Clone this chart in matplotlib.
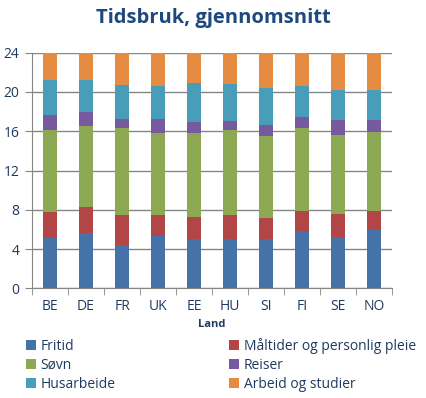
import matplotlib.pyplot as plt
import numpy as np

# data (hours per day, cumulative tops converted to segments)
land = ["BE", "DE", "FR", "UK", "EE", "HU", "SI", "FI", "SE", "NO"]
fritid = [5.15, 5.66, 4.44, 5.36, 5.02, 5.02, 5.02, 5.87, 5.26, 5.94]
maltider = [2.65, 2.64, 3.06, 2.14, 2.28, 2.48, 2.17, 2.00, 2.34, 1.93]
sovn = [8.35, 8.23, 8.82, 8.32, 8.52, 8.62, 8.31, 8.45, 8.01, 8.05]
reiser = [1.50, 1.45, 0.95, 1.45, 1.11, 0.95, 1.13, 1.12, 1.53, 1.22]
husarbeide = [3.55, 3.22, 3.43, 3.36, 4.01, 3.77, 3.77, 3.19, 3.05, 3.05]
arbeid = [2.80, 2.80, 3.30, 3.37, 3.06, 3.16, 3.60, 3.37, 3.81, 3.81]

series = [
    ("Fritid", fritid, "#4672AA"),
    ("Måltider og personlig pleie", maltider, "#B24647"),
    ("Søvn", sovn, "#8CA852"),
    ("Reiser", reiser, "#76599E"),
    ("Husarbeide", husarbeide, "#489EB8"),
    ("Arbeid og studier", arbeid, "#E68B42"),
]

plt.rcParams['font.family'] = ['Open Sans', 'DejaVu Sans']
text_col = '#1F3A5F'

fig = plt.figure(figsize=(4.26, 3.98), dpi=100)
ax = fig.add_axes([32 / 426, 1 - 288.3 / 398, 360 / 426, 235.6 / 398])

x = np.arange(len(land))
bottom = np.zeros(len(land))
handles = {}
for name, vals, col in series:
    b = ax.bar(x, vals, 0.37, bottom=bottom, color=col, label=name, zorder=3)
    handles[name] = b
    bottom += np.array(vals)

ax.set_xlim(-0.5, len(land) - 0.5)
ax.set_ylim(0, 24)
ax.set_yticks(range(0, 25, 4))
ax.yaxis.grid(True, color='#868686', linewidth=1, zorder=0)

ax.set_xticks(x)
ax.set_xticklabels(land)
ax.set_xticks(np.arange(-0.5, len(land)), minor=True)
ax.tick_params(axis='x', which='major', length=0, pad=8, labelsize=10, labelcolor=text_col)
ax.tick_params(axis='x', which='minor', length=5, color='#868686', direction='out')
ax.tick_params(axis='y', length=5, color='#868686', labelsize=10, labelcolor=text_col, pad=4)

for s in ['top', 'right']:
    ax.spines[s].set_visible(False)
for s in ['left', 'bottom']:
    ax.spines[s].set_color('#868686')

ax.set_xlabel('Land', fontsize=8, fontweight='bold', color=text_col, labelpad=3)

fig.text(0.5, 1 - 18 / 398, 'Tidsbruk, gjennomsnitt', ha='center', va='center',
         fontsize=14.5, fontweight='bold', color='#1F497D')

order = ["Fritid", "Søvn", "Husarbeide", "Måltider og personlig pleie", "Reiser", "Arbeid og studier"]
leg = fig.legend([handles[n] for n in order], order, ncol=2, loc='upper left',
                 bbox_to_anchor=(20 / 426, 1 - 332 / 398), frameon=False, fontsize=10,
                 handlelength=0.75, handleheight=0.75, handletextpad=0.3,
                 columnspacing=8.2, labelspacing=0.3, borderaxespad=0)
for t in leg.get_texts():
    t.set_color(text_col)

fig.savefig('out.png', dpi=100)
